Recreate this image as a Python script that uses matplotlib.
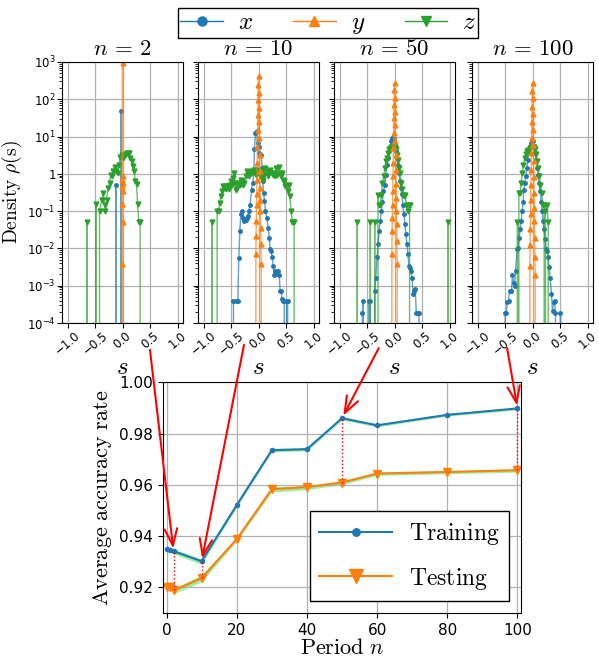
import matplotlib.pyplot as plt
import numpy as np
from matplotlib.colors import to_rgba
from matplotlib.lines import Line2D
from matplotlib.patches import ConnectionPatch
from matplotlib.ticker import FixedLocator, FormatStrFormatter, FuncFormatter, NullFormatter

plt.rcParams["mathtext.fontset"] = "cm"

# ---------------- accuracy vs period (bottom panel) ----------------
periods = [0, 1, 2, 10, 20, 30, 40, 50, 60, 80, 100]
train_acc = [0.9350, 0.9346, 0.9341, 0.9302, 0.9521, 0.9735, 0.9739, 0.9860, 0.9832, 0.9873, 0.9898]
train_lo = [0.9343, 0.9338, 0.9330, 0.9290, 0.9513, 0.9728, 0.9732, 0.9853, 0.9826, 0.9868, 0.9892]
train_hi = [0.9357, 0.9353, 0.9350, 0.9310, 0.9530, 0.9742, 0.9746, 0.9866, 0.9838, 0.9878, 0.9903]
test_acc = [0.9203, 0.9200, 0.9188, 0.9236, 0.9388, 0.9583, 0.9591, 0.9609, 0.9644, 0.9650, 0.9657]
test_lo = [0.9195, 0.9190, 0.9175, 0.9222, 0.9380, 0.9572, 0.9581, 0.9601, 0.9637, 0.9643, 0.9650]
test_hi = [0.9210, 0.9208, 0.9197, 0.9248, 0.9396, 0.9592, 0.9598, 0.9616, 0.9650, 0.9656, 0.9662]

# ---------------- densities rho(s) (top panels) ----------------
panel_periods = [2, 10, 50, 100]

# n = 2
x2_s = [-0.14, -0.115, -0.10, -0.045, -0.03, -0.015]
x2_rho = [0, 0.5, 0, 0, 49, 0]
y2_s = [-0.012, -0.008, -0.006, -0.004, -0.002, 0.0, 0.002, 0.004, 0.006, 0.008, 0.012]
y2_rho = [0, 0.0038, 0.16, 0.47, 0.70, 950, 0.86, 0.57, 0.34, 0.052, 0]
z2_s = [-0.67, -0.648, -0.63, -0.50, -0.485, -0.47, -0.43, -0.418, -0.376, -0.352,
        -0.327, -0.315, -0.29, -0.26, -0.236, -0.212, -0.188, -0.164, -0.139, -0.115,
        -0.09, -0.067, -0.042, -0.018, 0.006, 0.03, 0.055, 0.079, 0.103, 0.127,
        0.139, 0.164, 0.188, 0.212, 0.23, 0.255, 0.273, 0.297, 0.32, 0.34]
z2_rho = [0, 0.052, 0, 0, 0.16, 0, 0, 0.10, 0.20, 0.31,
          0.15, 0.10, 0.20, 0.42, 0.57, 0.95, 0.86, 1.17, 1.49, 1.2,
          1.05, 1.74, 2.8, 3.2, 2.6, 2.9, 3.4, 3.6, 3.6, 3.6,
          2.6, 2.15, 1.58, 1.17, 0.66, 0.53, 0.16, 0.052, 0.052, 0]

# n = 10
x10_s = [-0.48, -0.455, -0.418, -0.376, -0.358, -0.339, -0.321, -0.303, -0.285, -0.26,
         -0.236, -0.212, -0.194, -0.176, -0.152, -0.127, -0.103, -0.085, -0.073, -0.055,
         -0.036, -0.018, 0.0, 0.018, 0.048, 0.067, 0.079, 0.091, 0.109, 0.127,
         0.152, 0.176, 0.194, 0.212, 0.23, 0.248, 0.267, 0.285, 0.309, 0.333,
         0.358, 0.376, 0.394, 0.412, 0.43, 0.448, 0.467, 0.485, 0.51, 0.53, 0.545]
x10_rho = [0, 4e-4, 4e-4, 4e-4, 0.0054, 0.029, 0.085, 0.1, 0.066, 0.055,
           0.057, 0.066, 0.074, 0.1, 0.15, 0.38, 0.57, 1.3, 4.7, 12.3,
           14, 6.6, 5.4, 3.6, 3.24, 1.43, 0.63, 0.31, 0.19, 0.1,
           0.066, 0.036, 0.0195, 0.0095, 0.0086, 0.0058, 0.0034, 0.0019, 0.0025, 0.002,
           0.0025, 0.0019, 7.4e-4, 7.4e-4, 4.3e-4, 4e-4, 4e-4, 0, 4e-4, 4e-4, 0]
z10_s = [-0.87, -0.848, -0.83, -0.77, -0.752, -0.727, -0.709, -0.685, -0.667, -0.648,
         -0.63, -0.606, -0.588, -0.564, -0.545, -0.527, -0.503, -0.479, -0.461, -0.442,
         -0.424, -0.406, -0.388, -0.364, -0.345, -0.327, -0.309, -0.285, -0.261, -0.236,
         -0.212, -0.188, -0.164, -0.145, -0.121, -0.103, -0.085, -0.067, -0.048, -0.03,
         -0.012, 0.006, 0.024, 0.042, 0.067, 0.085, 0.103, 0.127, 0.152, 0.17,
         0.194, 0.218, 0.242, 0.261, 0.279, 0.303, 0.327, 0.345, 0.364, 0.382,
         0.4, 0.424, 0.442, 0.467, 0.485, 0.509, 0.533, 0.552, 0.57, 0.594,
         0.612, 0.636, 0.648, 0.665]
z10_rho = [0, 0.052, 0, 0, 0.1, 0.1, 0.17, 0.25, 0.34, 0.46,
           0.42, 0.46, 0.40, 0.46, 0.40, 0.51, 0.63, 0.51, 0.78, 1.05,
           0.57, 0.38, 0.42, 0.57, 0.51, 0.70, 0.63, 0.51, 0.57, 0.86,
           1.17, 1.05, 0.86, 1.05, 1.17, 1.05, 1.29, 1.17, 0.95, 1.29,
           1.17, 1.05, 0.86, 1.17, 1.05, 0.70, 0.95, 1.43, 1.17, 0.86,
           1.05, 1.29, 1.05, 0.95, 1.05, 0.86, 1.43, 0.95, 1.55, 1.05,
           0.86, 1.05, 0.70, 0.63, 0.46, 0.51, 0.34, 0.51, 0.25, 0.1,
           0.052, 0.052, 0.052, 0]

# n = 50
x50_s = [-0.60, -0.585, -0.567, -0.55, -0.49, -0.47, -0.44, -0.42, -0.38, -0.36,
         -0.341, -0.317, -0.299, -0.28, -0.262, -0.238, -0.22, -0.201, -0.177, -0.159,
         -0.14, -0.116, -0.098, -0.079, -0.055, -0.037, -0.012, 0.006, 0.024, 0.043,
         0.061, 0.079, 0.098, 0.116, 0.134, 0.152, 0.171, 0.189, 0.207, 0.226,
         0.244, 0.262, 0.28, 0.299, 0.317, 0.341, 0.36, 0.378, 0.396, 0.421,
         0.445, 0.46]
x50_rho = [0, 1.9e-4, 4e-4, 0, 0, 4e-4, 4e-4, 0, 0, 7.4e-4,
           0.0016, 0.0058, 0.0135, 0.029, 0.055, 0.1, 0.18, 0.34, 0.51, 0.95,
           1.75, 2.6, 4.0, 5.4, 7.4, 9.1, 8.5, 6.0, 4.0, 2.6,
           1.75, 1.05, 0.63, 0.42, 0.28, 0.15, 0.082, 0.044, 0.024, 0.0135,
           0.0069, 0.0034, 0.003, 0.0025, 0.0016, 6e-4, 7.4e-4, 8e-4, 1.9e-4, 1.9e-4,
           1.9e-4, 0]
z50_s = [-0.70, -0.677, -0.66, -0.455, -0.44, -0.425, -0.375, -0.36, -0.345, -0.31,
         -0.30, -0.28, -0.256, -0.238, -0.22, -0.195, -0.177, -0.159, -0.14, -0.116,
         -0.091, -0.067, -0.049, -0.024, 0.0, 0.024, 0.043, 0.061, 0.079, 0.098,
         0.122, 0.14, 0.159, 0.177, 0.195, 0.213, 0.238, 0.256, 0.274, 0.29,
         0.955, 0.97, 0.985]
z50_rho = [0, 0.052, 0, 0, 0.052, 0, 0, 0.052, 0, 0,
           0.27, 0.15, 0.15, 0.27, 0.57, 0.86, 1.43, 2.15, 2.6, 3.6,
           4.7, 5.1, 5.4, 4.9, 5.1, 4.7, 3.2, 2.4, 1.43, 1.05,
           0.57, 0.40, 0.27, 0.25, 0.27, 0.15, 0.1, 0.15, 0.15, 0,
           0, 0.052, 0]

# n = 100
x100_s = [-0.515, -0.497, -0.479, -0.455, -0.436, -0.418, -0.4, -0.382, -0.364, -0.345,
          -0.327, -0.309, -0.279, -0.26, -0.242, -0.224, -0.206, -0.188, -0.17, -0.158,
          -0.139, -0.121, -0.103, -0.085, -0.067, -0.048, -0.03, -0.012, 0.012, 0.03,
          0.048, 0.067, 0.085, 0.103, 0.121, 0.139, 0.158, 0.176, 0.194, 0.212,
          0.23, 0.248, 0.267, 0.285, 0.303, 0.321, 0.345, 0.364, 0.382, 0.4,
          0.418, 0.436, 0.49, 0.509, 0.527]
x100_rho = [0, 1.9e-4, 1.9e-4, 3.6e-4, 4e-4, 7.4e-4, 7.4e-4, 7.4e-4, 0.0019, 0.0012,
            0.001, 0.0025, 0.0094, 0.0105, 0.0195, 0.033, 0.055, 0.1, 0.18, 0.37,
            0.57, 0.86, 1.43, 2.4, 4.0, 5.4, 6.6, 8.2, 7.4, 5.4,
            3.6, 2.4, 1.43, 0.95, 0.57, 0.34, 0.18, 0.1, 0.055, 0.033,
            0.0178, 0.0094, 0.0086, 0.0058, 0.0031, 0.0016, 6e-4, 2.1e-4, 3.6e-4, 4e-4,
            1.9e-4, 0, 0, 1.9e-4, 0]
z100_s = [-0.285, -0.273, -0.26, -0.248, -0.224, -0.206, -0.188, -0.164, -0.145, -0.121,
          -0.097, -0.073, -0.048, -0.024, 0.0, 0.024, 0.048, 0.067, 0.085, 0.103,
          0.121, 0.139, 0.164, 0.188, 0.212, 0.224, 0.236, 0.261, 0.285, 0.303]
z100_rho = [0, 0.052, 0, 0.31, 0.31, 0.57, 1.05, 1.75, 2.6, 3.4,
            4.0, 4.4, 4.9, 5.3, 5.4, 5.1, 4.7, 3.4, 2.2, 1.43,
            0.90, 0.51, 0.31, 0.15, 0.15, 0, 0.1, 0.15, 0.052, 0]

# narrow y-spike shared bin centres for n = 10, 50, 100
y_s = [-0.052, -0.048, -0.044, -0.040, -0.036, -0.032, -0.028, -0.024, -0.020,
       -0.016, -0.012, -0.008, -0.004, 0.0, 0.004, 0.008, 0.012, 0.016, 0.020,
       0.024, 0.028, 0.032, 0.036, 0.040, 0.044, 0.048, 0.052]
y10_rho = [0, 0.0069, 0.021, 0.054, 0.15, 0.28, 0.70, 1.9, 5.4, 15, 38, 95, 240, 427,
           149, 59, 24, 9.1, 3.2, 1.17, 0.42, 0.20, 0.1, 0.036, 0.013, 0.0038, 0]
y50_rho = [0, 0.0069, 0.029, 0.066, 0.15, 0.34, 0.86, 1.9, 4.9, 12.3, 31, 70, 174, 281,
           110, 46, 20.5, 7.4, 3.2, 1.29, 0.53, 0.23, 0.1, 0.044, 0.016, 0.0038, 0]
y100_rho = [0, 0.0034, 0.012, 0.034, 0.082, 0.20, 0.51, 1.29, 3.6, 9.3, 24, 63, 169, 281,
            105, 40, 15, 5.8, 2.15, 0.81, 0.31, 0.12, 0.054, 0.019, 0.0058, 0.0019, 0]

densities = [
    ((x2_s, x2_rho), (y2_s, y2_rho), (z2_s, z2_rho)),
    ((x10_s, x10_rho), (y_s, y10_rho), (z10_s, z10_rho)),
    ((x50_s, x50_rho), (y_s, y50_rho), (z50_s, z50_rho)),
    ((x100_s, x100_rho), (y_s, y100_rho), (z100_s, z100_rho)),
]

C_X, C_Y, C_Z = "#1f77b4", "#ff7f0e", "#2ca02c"
series_style = [(C_X, "o", 2.5), (C_Y, "^", 3.5), (C_Z, "v", 3.5)]
draw_order = [0, 2, 1]  # x, z, then the narrow y spike on top


def decade_label(v, pos):
    e = int(round(np.log10(v)))
    return "1" if e == 0 else r"$\mathdefault{10^{%d}}$" % e


fig = plt.figure(figsize=(5.99, 6.63), dpi=100)

# ---- top row of density panels ----
lefts = [62, 198, 334, 472]
top_axes = []
for k, (n, series) in enumerate(zip(panel_periods, densities)):
    rect = [lefts[k] / 599, 0.5128, 121 / 599, 0.3937]
    ax = fig.add_axes(rect, sharey=top_axes[0] if top_axes else None)
    ax.set_yscale("log")
    for j in draw_order:
        s, rho = series[j]
        color, marker, ms = series_style[j]
        ax.plot(s, rho, color=to_rgba(color, 0.7), lw=1.0, marker=marker, ms=ms,
                mfc=color, mec=color)
    ax.set_xlim(-1.1, 1.1)
    ax.set_ylim(1e-4, 1e3)
    ax.set_xticks([-1.0, -0.5, 0.0, 0.5, 1.0])
    ax.yaxis.set_major_locator(FixedLocator([1e-4, 1e-3, 1e-2, 1e-1, 1, 1e1, 1e2, 1e3]))
    ax.yaxis.set_major_formatter(FuncFormatter(decade_label))
    ax.yaxis.set_minor_formatter(NullFormatter())
    ax.tick_params(axis="x", labelsize=8.5, labelrotation=40, pad=1)
    ax.tick_params(axis="y", labelsize=8.5, pad=1)
    ax.grid(True, color="#b0b0b0", lw=0.9)
    ax.set_title(rf"$n\,=\,{n}$", fontsize=16.5, pad=5)
    ax.set_xlabel(r"$s$", fontsize=18, labelpad=-2)
    if k > 0:
        ax.tick_params(labelleft=False)
    top_axes.append(ax)

top_axes[0].set_ylabel(r"$\mathrm{Density}\ \rho(\mathrm{s})$", fontsize=14, labelpad=2)

handles = [Line2D([], [], color=c, marker=m, ms=6.5, lw=1.0) for c, m, _ in series_style]
fig.legend(handles, [r"$x$", r"$y$", r"$z$"], ncol=3, loc="upper center",
           bbox_to_anchor=(0.548, 0.988), borderaxespad=0, fontsize=18,
           handlelength=1.7, handleheight=0.5, handletextpad=0.6,
           columnspacing=1.6, borderpad=0.08,
           fancybox=False, edgecolor="black", framealpha=1)

# ---- bottom: average accuracy vs period ----
ax_acc = fig.add_axes([163 / 599, 0.0754, 358 / 599, 0.348])
ax_acc.fill_between(periods, train_lo, train_hi, color="#90ee90", lw=0, alpha=0.9)
ax_acc.fill_between(periods, test_lo, test_hi, color="#90ee90", lw=0, alpha=0.9)
ax_acc.plot(periods, train_acc, color=C_X, lw=1.5, marker="o", ms=3, label=r"$\mathrm{Training}$")
ax_acc.plot(periods, test_acc, color=C_Y, lw=1.5, marker="v", ms=5.5, label=r"$\mathrm{Testing}$")

idx = [periods.index(p) for p in panel_periods]
ax_acc.vlines(panel_periods, [test_acc[i] for i in idx], [train_acc[i] for i in idx],
              colors="red", linestyles=":", lw=1)

ax_acc.set_xlim(-1, 101)
ax_acc.set_ylim(0.910, 1.0)
ax_acc.set_xticks([0, 20, 40, 60, 80, 100])
ax_acc.set_yticks([0.92, 0.94, 0.96, 0.98, 1.00])
ax_acc.yaxis.set_major_formatter(FormatStrFormatter("%.2f"))
ax_acc.tick_params(labelsize=11)
ax_acc.grid(True, color="#b0b0b0", lw=0.9)
ax_acc.set_xlabel(r"$\mathrm{Period}\ n$", fontsize=16, labelpad=0)
ax_acc.set_ylabel(r"$\mathrm{Average\ accuracy\ rate}$", fontsize=16, labelpad=4)
ax_acc.legend(loc="lower right", fontsize=17, markerscale=1.8, handlelength=3.1,
              handletextpad=0.7, labelspacing=0.8, fancybox=False,
              edgecolor="black", framealpha=1)

# ---- red arrows from each density panel to its period ----
arrow_starts = [(0.727, -0.103), (0.38, -0.084), (0.37, -0.096), (0.29, -0.096)]
for ax, start, i, p in zip(top_axes, arrow_starts, idx, panel_periods):
    con = ConnectionPatch(xyA=start, coordsA=ax.transAxes,
                          xyB=(p, train_acc[i]), coordsB=ax_acc.transData,
                          arrowstyle="->,head_length=1.2,head_width=0.45",
                          color="red", lw=1.5, shrinkA=0, shrinkB=2, zorder=10)
    fig.add_artist(con)

fig.savefig("out.png", dpi=100)
